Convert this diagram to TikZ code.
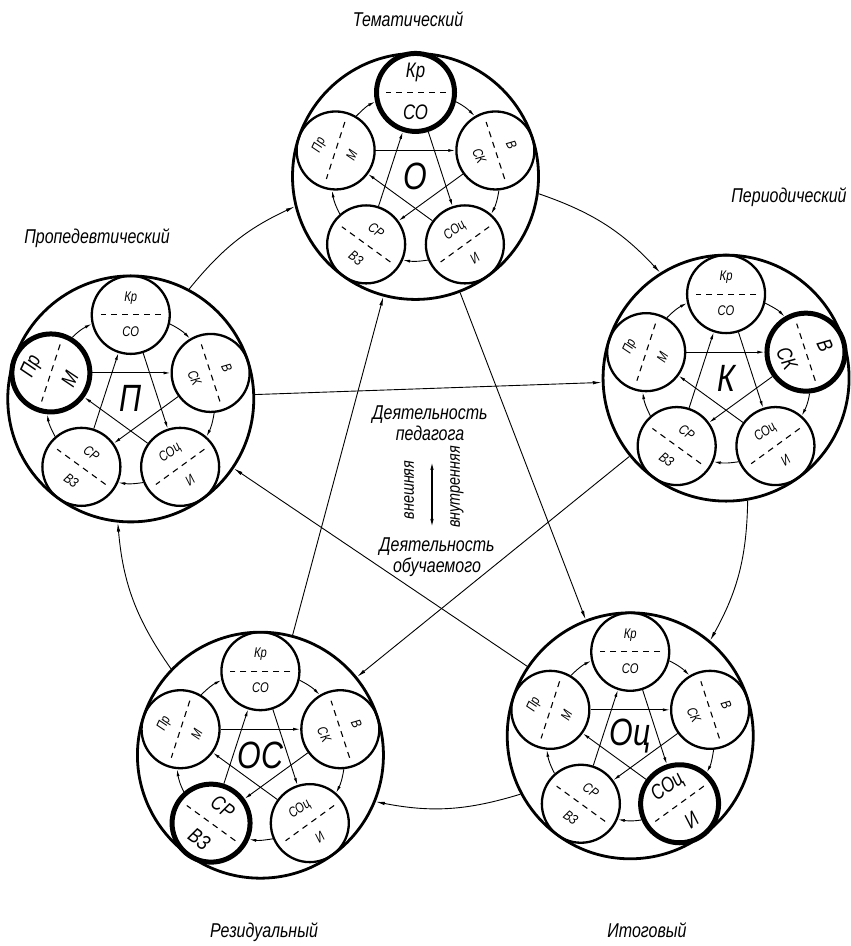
\documentclass[tikz,border=0pt]{standalone}
\usepackage{fontspec}
\setmainfont{Liberation Sans}[FakeStretch=0.8]
\usepackage{tikz}
\usetikzlibrary{
    positioning,
    arrows.meta
}

\begin{document}
\begin{tikzpicture}[
    x=1pt,
    y=1pt,
    bigcircle/.style={
        circle,
        draw,
        line width=2.8pt,
        minimum size=246pt,
        inner sep=0pt,
        font=\fontsize{38}{40}\selectfont\itshape
    },
    smallcircle/.style={
        circle,
        draw,
        line width=2.3pt,
        minimum size=78pt,
        inner sep=0pt
    },
    smallhi/.style={
        smallcircle,
        line width=5pt
    },
    part/.style={
        inner sep=0pt,
        font=\fontsize{14}{16}\selectfont\itshape
    },
    parthi/.style={
        inner sep=0pt,
        font=\fontsize{21}{23}\selectfont\itshape
    },
    divider/.style={
        dash pattern=on 6pt off 5pt,
        line width=1.1pt
    },
    title/.style={
        font=\fontsize{20}{22}\selectfont\itshape
    },
    note/.style={
        align=center,
        inner sep=0pt,
        font=\fontsize{20}{21}\selectfont\itshape
    },
    arrow/.style={
        -{Latex[length=9pt, width=3.5pt]},
        line width=0.9pt
    },
    smallarrow/.style={
        -{Latex[length=7pt, width=3pt]},
        line width=0.9pt
    },
    dblarrow/.style={
        {Latex[length=8pt, width=3.5pt]}-{Latex[length=8pt, width=3.5pt]},
        line width=1.2pt
    }
]

\useasboundingbox (0,0) rectangle (851,946);

% ============================================================
% CONTROL TYPES
% ============================================================

\coordinate (ring) at (432,455);

\node[bigcircle] (thematic)     at ([shift={(93:315)}]ring)   {О};
\node[bigcircle] (periodic)     at ([shift={(21:315)}]ring)   {К};
\node[bigcircle] (summary)      at ([shift={(-51:315)}]ring)  {Оц};
\node[bigcircle] (residual)     at ([shift={(-123:315)}]ring) {ОС};
\node[bigcircle] (propaedeutic) at ([shift={(163:315)}]ring)  {П};

% ============================================================
% TITLES
% ============================================================

\node[title] (thematictitle)     at (408,927) {Тематический};
\node[title] (periodictitle)     at (789,749) {Периодический};
\node[title] (summarytitle)      at (647,16)  {Итоговый};
\node[title] (residualtitle)     at (264,14)  {Резидуальный};
\node[title] (propaedeutictitle) at (97,708)  {Пропедевтический};

% ============================================================
% FUNCTIONS INSIDE EACH TYPE
% ============================================================

\foreach \b/\hl in {thematic/1, periodic/2, summary/3, residual/4, propaedeutic/5} {
    \foreach \s/\ang/\dang/\tang/\up/\down [count=\k] in
        {kr/90/0/0/Кр/СО, v/18/-72/-65/В/СК, coc/-54/36/36/СОц/И,
         sr/-126/-36/-36/СР/ВЗ, pr/162/72/65/Пр/М} {
        \ifnum\k=\hl
            \tikzset{cur/.style={smallhi}, curpart/.style={parthi}}
            \def\off{20}
        \else
            \tikzset{cur/.style={smallcircle}, curpart/.style={part}}
            \def\off{17}
        \fi
        \node[cur] (\b-\s) at ([shift={(\ang:84)}]\b) {};
        \draw[divider] ([shift={(\dang:30)}]\b-\s.center)
            -- ([shift={(\dang+180:30)}]\b-\s.center);
        \node[curpart, rotate=\tang] (\b-\s-up)
            at ([shift={(\dang+90:\off)}]\b-\s.center) {\up};
        \node[curpart, rotate=\tang] (\b-\s-down)
            at ([shift={(\dang-90:\off)}]\b-\s.center) {\down};
    }
    % ring of the functions
    \foreach \a/\c/\pa/\pc in {kr/v/90/18, v/coc/18/-54, coc/sr/-54/-126,
                               sr/pr/-126/162, pr/kr/162/90} {
        \pgfmathtruncatemacro\sa{\pa-103}
        \pgfmathtruncatemacro\so{\pa-117}
        \pgfmathtruncatemacro\ea{\pc+103}
        \pgfmathtruncatemacro\ei{\pc+117}
        \draw[smallarrow] (\b-\a.\sa) to[out=\so, in=\ei] (\b-\c.\ea);
    }
    % star of the functions
    \foreach \a/\c in {pr/v, kr/coc, v/sr, coc/pr, sr/kr}
        \draw[smallarrow] (\b-\a) -- (\b-\c);
}

% ============================================================
% ACTIVITY
% ============================================================

\node[note] (teacher) at (430,523) {Деятельность\\педагога};
\node[note] (learner) at (437,389) {Деятельность\\обучаемого};

\coordinate (acttop)    at (432,484);
\coordinate (actbottom) at (432,419);

\node[note, rotate=90, font=\fontsize{18}{20}\selectfont\itshape]
    (outside) at (409,456) {внешняя};
\node[note, rotate=90, font=\fontsize{18}{20}\selectfont\itshape]
    (inside)  at (457,459) {внутренняя};

% ============================================================
% CONNECTIONS
% ============================================================

\draw[dblarrow] (acttop) -- (actbottom);

\draw[arrow] (thematic.-8)       to[out=-19, in=133] (periodic.122);
\draw[arrow] (periodic.-80)      to[out=-91, in=61]  (summary.50);
\draw[arrow] (summary.-152)      to[out=-163, in=-11] (residual.-22);
\draw[arrow] (residual.136)      to[out=125, in=275] (propaedeutic.264);
\draw[arrow] (propaedeutic.62)   to[out=51, in=205]  (thematic.194);

\draw[arrow] (propaedeutic) -- (periodic);
\draw[arrow] (periodic) -- (residual);
\draw[arrow] (residual) -- (thematic);
\draw[arrow] (thematic) -- (summary);
\draw[arrow] (summary) -- (propaedeutic);

\end{tikzpicture}
\end{document}
